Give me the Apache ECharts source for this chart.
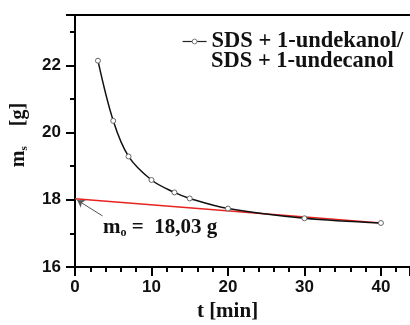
<!DOCTYPE html>
<html>
<head>
<meta charset="utf-8">
<script src="https://cdn.jsdelivr.net/npm/echarts@6/dist/echarts.min.js"></script>
<style>
  html, body { margin: 0; padding: 0; background: #fff; }
  #chart { width: 410px; height: 325px; }
</style>
</head>
<body>
<div id="chart"></div>
<script>
// measured mass vs time
const times = [3, 5, 7, 10, 13, 15, 20, 30, 40];
const masses = [22.14, 20.35, 19.29, 18.59, 18.22, 18.04, 17.74, 17.45, 17.31];
// linear extrapolation to t = 0
const fitTimes = [0, 40];
const fitMasses = [18.03, 17.31];
const xTicks = [0, 10, 20, 30, 40];
const yTicks = [16, 18, 20, 22];
const legendLines = ['SDS + 1-undekanol/', 'SDS + 1-undecanol'];

const serif = 'Liberation Serif';
const sans = 'Liberation Sans';

const chart = echarts.init(document.getElementById('chart'));

const axisLine = { show: true, lineStyle: { color: '#000', width: 2 } };

chart.setOption({
  animation: false,
  backgroundColor: '#fff',
  // keep the plot box fixed, labels may sit near the edges
  grid: { left: 75, right: 0, top: 15, bottom: 58, outerBoundsMode: 'none' },
  legend: {
    data: [legendLines[0]],
    left: 177,
    top: 25,
    itemWidth: 24,
    itemHeight: 6,
    itemGap: 0,
    itemStyle: { color: '#fff', borderColor: '#777', borderWidth: 1 },
    lineStyle: { width: 1.2, color: '#222' },
    textStyle: { fontFamily: serif, fontWeight: 'bold', fontSize: 22.5, color: '#111' }
  },
  graphic: [{
    type: 'text',
    left: 211,
    top: 50,
    style: {
      text: legendLines[1],
      fontFamily: serif, fontWeight: 'bold', fontSize: 22.5, fill: '#111'
    }
  }, {
    type: 'text',
    left: 103,
    top: 217,
    style: {
      text: '{m|m}{s|o}{t| =  18,03 g}',
      rich: {
        m: { fontFamily: serif, fontWeight: 'bold', fontSize: 21, fill: '#111' },
        s: { fontFamily: serif, fontWeight: 'bold', fontSize: 12, fill: '#111', padding: [11, 0, 0, 0] },
        t: { fontFamily: serif, fontWeight: 'bold', fontSize: 21, fill: '#111' }
      }
    }
  }],
  xAxis: [{
    type: 'value',
    min: 0,
    max: 43.8,
    interval: 10,
    name: 't [min]',
    nameLocation: 'middle',
    nameGap: 34,
    nameTextStyle: { fontFamily: serif, fontWeight: 'bold', fontSize: 21, color: '#111', padding: [0, 30, 0, 0] },
    axisLine: axisLine,
    axisTick: { show: true, length: 9, lineStyle: { color: '#000', width: 2 } },
    minorTick: { show: true, splitNumber: 5, length: 5, lineStyle: { color: '#000', width: 2 } },
    axisLabel: {
      showMaxLabel: false, margin: 12,
      fontFamily: sans, fontWeight: 'bold', fontSize: 17, color: '#111',
      formatter: v => xTicks.includes(v) ? String(v) : ''
    },
    splitLine: { show: false }
  }, {
    type: 'value',
    position: 'top',
    min: 0,
    max: 43.8,
    axisLine: axisLine,
    axisTick: { show: false },
    axisLabel: { show: false },
    splitLine: { show: false }
  }],
  yAxis: {
    type: 'value',
    min: 16,
    max: 23.5,
    interval: 2,
    name: '{m|m}{s|s}{t|    [g]}',
    nameLocation: 'middle',
    nameGap: 45,
    nameTextStyle: {
      padding: [0, 0, 0, 12],
      rich: {
        m: { fontFamily: serif, fontWeight: 'bold', fontSize: 20, color: '#111' },
        s: { fontFamily: serif, fontWeight: 'bold', fontSize: 11, color: '#111', padding: [11, 0, 0, 0] },
        t: { fontFamily: serif, fontWeight: 'bold', fontSize: 20, color: '#111' }
      }
    },
    axisLine: axisLine,
    axisTick: { show: true, length: 9, lineStyle: { color: '#000', width: 2 } },
    minorTick: { show: true, splitNumber: 2, length: 5, lineStyle: { color: '#000', width: 2 } },
    axisLabel: {
      showMaxLabel: false, margin: 14,
      fontFamily: sans, fontWeight: 'bold', fontSize: 17, color: '#111',
      formatter: v => yTicks.includes(v) ? String(v) : ''
    },
    splitLine: { show: false }
  },
  series: [{
    name: legendLines[0],
    type: 'line',
    data: times.map((t, i) => [t, masses[i]]),
    smooth: 0.35,
    symbol: 'circle',
    symbolSize: 5,
    z: 3,
    lineStyle: { color: '#111', width: 1.5 },
    itemStyle: { color: '#fff', borderColor: '#666', borderWidth: 1 }
  }, {
    name: 'fit',
    type: 'line',
    data: fitTimes.map((t, i) => [t, fitMasses[i]]),
    symbol: 'none',
    z: 2,
    lineStyle: { color: '#e8231f', width: 1.5 },
    markLine: {
      silent: true,
      symbol: ['none', 'arrow'],
      symbolSize: 7,
      label: { show: false },
      lineStyle: { color: '#555', width: 1, type: 'solid' },
      data: [[{ coord: [3.6, 17.52] }, { coord: [0.3, 17.99] }]]
    }
  }]
});
</script>
</body>
</html>
